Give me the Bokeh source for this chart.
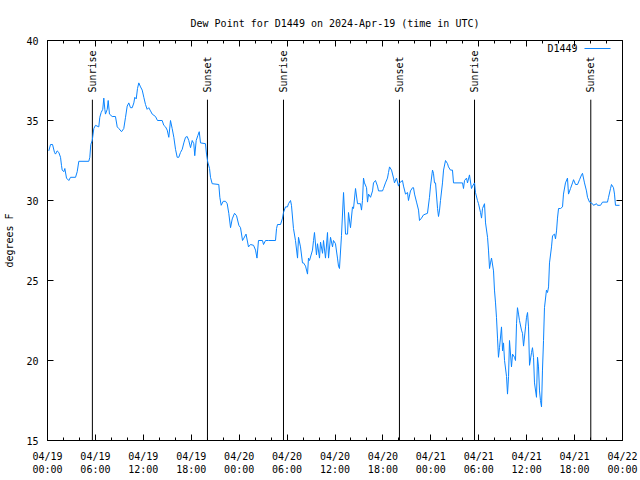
import math
from bokeh.plotting import figure
from bokeh.models import Range1d, FixedTicker, LinearAxis, Label, BoxAnnotation
from bokeh.core.properties import value
from bokeh.embed import file_html
from bokeh.resources import INLINE

# hours since 2024-04-19 00:00 UTC
hours = [0.16, 0.38, 0.63, 0.88, 1.00, 1.21, 1.42, 1.63, 1.75, 1.84, 2.04, 2.17, 2.38, 2.67, 2.88, 3.51,
         3.72, 3.92, 5.17, 5.30, 5.42, 5.60, 5.80, 6.01, 6.42, 6.55, 6.72, 6.92, 7.05, 7.18, 7.26, 7.48,
         7.60, 7.76, 8.10, 8.51, 8.73, 8.93, 9.27, 9.55, 9.77, 9.98, 10.18, 10.39, 10.61, 10.81, 10.93,
         11.11, 11.27, 11.43, 11.65, 11.86, 12.06, 12.27, 12.48, 12.68, 12.90, 13.11, 13.52, 13.77, 14.36,
         14.56, 14.78, 14.99, 15.19, 15.40, 15.61, 15.82, 16.03, 16.24, 16.44, 16.65, 16.87, 17.07, 17.28,
         17.49, 17.69, 17.91, 18.12, 18.32, 18.44, 18.62, 18.82, 19.00, 19.16, 19.78, 19.91, 20.07, 20.29,
         20.41, 20.62, 21.45, 21.58, 21.75, 22.00, 22.29, 22.50, 22.70, 22.92, 23.13, 23.42, 23.67, 23.96,
         24.17, 24.42, 24.54, 24.86, 25.17, 25.42, 25.80, 26.05, 26.23, 26.42, 26.92, 27.05, 27.30, 27.67,
         28.55, 28.68, 28.80, 29.18, 29.43, 29.55, 29.80, 30.05, 30.18, 30.43, 30.55, 30.80, 31.05, 31.31,
         31.43, 31.68, 31.93, 32.06, 32.31, 32.56, 32.68, 32.81, 33.18, 33.31, 33.43, 33.68, 33.81, 34.06,
         34.19, 34.44, 34.56, 34.81, 35.06, 35.19, 35.44, 35.69, 35.81, 36.06, 36.31, 36.44, 36.56, 36.81,
         37.07, 37.32, 37.57, 37.69, 37.94, 38.19, 38.32, 38.57, 38.82, 39.19, 39.32, 39.44, 39.57, 39.69,
         39.95, 40.07, 40.20, 40.45, 40.70, 40.82, 41.07, 41.32, 41.45, 41.95, 42.07, 42.32, 42.57, 42.70,
         42.83, 43.08, 43.33, 43.45, 43.70, 43.95, 44.08, 44.45, 44.58, 44.83, 45.08, 45.20, 45.45, 45.71,
         45.83, 45.96, 46.21, 46.46, 46.58, 46.83, 47.08, 47.58, 47.83, 47.96, 48.21, 48.33, 48.46, 48.59,
         48.84, 48.96, 49.09, 49.21, 49.46, 49.59, 49.84, 50.09, 50.21, 50.46, 50.71, 50.84, 51.97, 52.09,
         52.22, 52.47, 52.59, 52.84, 53.09, 53.22, 53.47, 53.59, 53.84, 53.97, 54.22, 54.35, 54.47, 54.72,
         54.85, 55.10, 55.22, 55.35, 55.47, 55.60, 55.85, 55.97, 56.10, 56.22, 56.35, 56.47, 56.60, 56.85,
         56.98, 57.10, 57.23, 57.48, 57.60, 57.73, 57.85, 58.10, 58.23, 58.48, 58.60, 58.73, 58.85, 58.98,
         59.10, 59.35, 59.48, 59.61, 59.86, 59.98, 60.11, 60.23, 60.36, 60.61, 60.73, 60.86, 60.98, 61.23,
         61.36, 61.48, 61.61, 61.73, 61.86, 61.98, 62.11, 62.23, 62.48, 62.61, 62.74, 62.86, 63.11, 63.24,
         63.49, 63.61, 63.74, 63.86, 63.99, 64.24, 64.49, 64.61, 64.86, 65.11, 65.24, 65.49, 65.74, 65.87,
         66.12, 66.37, 66.62, 66.87, 66.99, 67.24, 67.49, 67.62, 67.87, 68.24, 68.37, 68.75, 68.87, 69.25,
         69.50, 70.12, 70.25, 70.50, 70.62, 70.87, 71.00, 71.12, 71.63]

dewpoint = [33.1, 33.5, 33.5, 33.0, 32.9, 33.1, 33.0, 32.7, 32.2, 31.9, 31.8, 32.0, 31.4, 31.25, 31.45, 31.45,
            31.8, 32.45, 32.45, 32.7, 33.5, 33.75, 34.5, 34.7, 34.6, 35.2, 35.5, 35.7, 36.4, 35.7, 35.4, 35.7,
            36.25, 35.4, 35.25, 35.25, 34.6, 34.5, 34.3, 34.5, 35.2, 35.9, 36.1, 35.8, 35.8, 36.1, 36.45,
            36.35, 37.0, 37.35, 37.1, 36.9, 36.45, 36.0, 35.7, 35.8, 35.6, 35.4, 35.25, 35.0, 35.0,
            34.7, 34.6, 34.4, 33.95, 35.0, 34.5, 33.95, 33.2, 32.7, 32.7, 33.0, 33.2, 33.6, 33.95,
            34.0, 33.75, 33.3, 33.75, 33.55, 32.8, 33.75, 34.05, 34.3, 33.6, 33.55, 32.9, 32.4, 32.0,
            31.45, 31.05, 31.0, 30.2, 29.7, 29.95, 29.95, 29.8, 29.2, 28.3, 28.85, 29.2, 29.05, 28.45,
            28.3, 27.5, 27.6, 27.9, 27.1, 27.25, 27.2, 26.9, 26.4, 27.5, 27.5, 27.25, 27.5, 27.5,
            27.5, 28.25, 28.5, 28.5, 28.9, 29.25, 29.6, 29.6, 29.8, 30.0, 29.7, 28.25, 27.5, 26.4,
            27.7, 27.1, 26.1, 26.1, 25.9, 25.4, 26.4, 26.25, 26.9, 27.5, 28.0, 26.6, 27.3, 26.4,
            27.4, 26.7, 27.5, 26.4, 28.0, 26.4, 27.7, 27.1, 27.5, 27.3, 26.4, 25.9, 25.75, 27.8,
            30.5, 27.9, 27.9, 29.25, 28.3, 29.6, 29.5, 30.75, 29.8, 29.8, 29.4, 30.0, 31.4, 31.1,
            30.8, 29.9, 30.4, 30.2, 30.6, 31.1, 31.25, 30.9, 30.6, 30.6, 30.75, 31.1, 31.4, 31.75,
            32.1, 31.9, 31.4, 31.1, 31.4, 30.9, 31.1, 31.25, 30.9, 30.4, 30.5, 30.0, 30.6, 30.8,
            30.8, 30.4, 29.9, 29.4, 28.75, 28.9, 29.1, 29.2, 30.2, 30.9, 31.9, 31.7, 31.1, 31.1,
            29.5, 29.0, 29.4, 30.0, 31.1, 31.9, 32.5, 32.3, 32.1, 31.9, 31.9, 31.1, 31.1, 30.75,
            31.25, 31.4, 31.1, 31.6, 30.75, 30.9, 31.1, 30.5, 30.0, 29.8, 29.25, 28.9, 29.5, 29.8,
            28.6, 27.7, 26.9, 25.75, 26.1, 26.4, 25.6, 24.4, 23.6, 22.7, 21.4, 20.2, 20.8, 22.1,
            20.6, 21.1, 20.0, 19.0, 17.9, 19.0, 21.25, 19.6, 20.4, 20.2, 20.0, 22.3, 23.3, 22.9,
            22.5, 21.9, 21.7, 20.9, 22.1, 22.7, 23.0, 22.1, 19.7, 20.5, 20.8, 20.2, 18.6, 17.7,
            20.2, 19.6, 18.1, 17.5, 17.1, 19.4, 21.25, 23.3, 24.4, 24.25, 24.6, 26.1, 27.1, 27.8,
            27.9, 27.6, 28.1, 28.9, 29.5, 29.5, 29.6, 30.4, 31.1, 31.4, 30.4, 30.75, 31.1, 31.3,
            31.0, 31.0, 31.3, 31.6, 31.7, 31.1, 30.6, 30.2, 29.9, 29.8, 29.7, 29.8, 29.7, 29.7,
            29.9, 29.9, 30.2, 30.75, 31.0, 30.8, 30.4, 29.7, 29.7]

sun_hours = [5.62, 20.03, 29.55, 44.07, 53.47, 68.03]
sun_labels = ["Sunrise", "Sunset", "Sunrise", "Sunset", "Sunrise", "Sunset"]

x_ticks = [0, 6, 12, 18, 24, 30, 36, 42, 48, 54, 60, 66, 72]
x_minor_ticks = list(range(0, 73, 2))
x_tick_labels = ["04/19\n00:00", "04/19\n06:00", "04/19\n12:00", "04/19\n18:00",
                 "04/20\n00:00", "04/20\n06:00", "04/20\n12:00", "04/20\n18:00",
                 "04/21\n00:00", "04/21\n06:00", "04/21\n12:00", "04/21\n18:00",
                 "04/22\n00:00"]
y_ticks = [15, 20, 25, 30, 35, 40]

series_name = "D1449"
title_text = "Dew Point for D1449 on 2024-Apr-19 (time in UTC)"
y_label = "degrees F"

FONT = "DejaVu Sans Mono"
FS = "10px"
LINE_COLOR = "#0a84ff"

p = figure(width=640, height=480, output_backend="svg", toolbar_location=None,
           x_range=Range1d(0, 72), y_range=Range1d(15, 40),
           min_border_left=47, min_border_right=18, min_border_top=40, min_border_bottom=40,
           title=title_text)
p.background_fill_color = "white"
p.border_fill_color = "white"
p.outline_line_color = "black"
p.outline_line_width = 1
p.xgrid.visible = False
p.ygrid.visible = False

p.title.text_font = FONT
p.title.text_font_size = FS
p.title.text_font_style = "normal"
p.title.align = "center"
p.title.text_color = "black"
p.title.standoff = 24

# bottom axis
xa = p.xaxis[0]
xa.ticker = FixedTicker(ticks=x_ticks, minor_ticks=x_minor_ticks)
xa.major_label_overrides = {t: lab for t, lab in zip(x_ticks, x_tick_labels)}
xa.major_label_text_font = FONT
xa.major_label_text_font_size = FS
xa.major_label_text_color = "black"
xa.major_tick_in = 6
xa.major_tick_out = 0
xa.minor_tick_in = 3
xa.minor_tick_out = 0
xa.major_label_standoff = 10
xa.axis_line_color = "black"
xa.major_tick_line_color = "black"
xa.minor_tick_line_color = "black"

# left axis
ya = p.yaxis[0]
ya.ticker = FixedTicker(ticks=y_ticks)
ya.major_label_text_font = FONT
ya.major_label_text_font_size = FS
ya.major_label_text_color = "black"
ya.major_tick_in = 6
ya.major_tick_out = 0
ya.minor_tick_line_color = None
ya.major_label_standoff = 9
ya.axis_label = y_label
ya.axis_label_text_font = FONT
ya.axis_label_text_font_size = FS
ya.axis_label_text_font_style = "normal"
ya.axis_label_text_color = "black"
ya.axis_label_standoff = 8
ya.axis_line_color = "black"

# mirrored axes (ticks only, no labels)
top = LinearAxis(ticker=FixedTicker(ticks=x_ticks, minor_ticks=x_minor_ticks),
                 major_label_overrides={t: "" for t in x_ticks},
                 major_tick_in=6, major_tick_out=0,
                 minor_tick_in=3, minor_tick_out=0, major_label_standoff=0,
                 axis_line_color=None)
p.add_layout(top, "above")
right = LinearAxis(ticker=FixedTicker(ticks=y_ticks),
                   major_label_overrides={t: "" for t in y_ticks},
                   major_tick_in=6, major_tick_out=0,
                   minor_tick_line_color=None, major_label_standoff=0,
                   axis_line_color=None)
p.add_layout(right, "right")

# sunrise / sunset markers
p.segment(x0=sun_hours, y0=[15] * len(sun_hours), x1=sun_hours, y1=[36.3] * len(sun_hours),
          line_color="black", line_width=1)
p.text(x=sun_hours, y=[36.75] * len(sun_hours), text=sun_labels, angle=math.pi / 2,
       text_align="left", text_baseline="middle", text_font=value(FONT),
       text_font_size=FS, text_color="black")

# data series
p.line(hours, dewpoint, line_color=LINE_COLOR, line_width=1)

# key (label then sample line, as in the reference); screen units relative to the frame
p.add_layout(Label(x=530, y=392, x_units="screen", y_units="screen", text=series_name,
                   text_align="right", text_baseline="middle", text_font=FONT,
                   text_font_size=FS, text_color="black"))
p.add_layout(BoxAnnotation(left=537, right=563, top=392.5, bottom=391.5,
                           left_units="screen", right_units="screen",
                           top_units="screen", bottom_units="screen",
                           fill_color=LINE_COLOR, fill_alpha=1, line_color=None))

open("out.html", "w").write(file_html(p, INLINE))
